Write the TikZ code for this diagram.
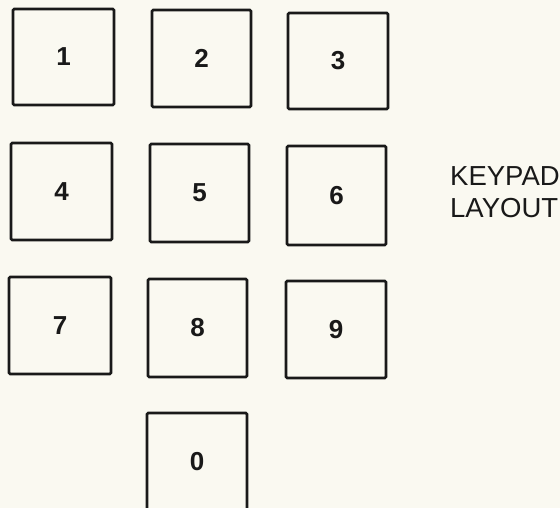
\documentclass[tikz,border=0pt]{standalone}
\usepackage{fontspec}
\setmainfont{Liberation Sans}
\definecolor{paper}{RGB}{250,249,241}
\definecolor{ink}{RGB}{25,25,25}
\begin{document}
\begin{tikzpicture}[x=1pt,y=-1pt,
  key/.style={draw=ink, line width=2.7pt, rounded corners=1.2pt, inner sep=0pt,
    font=\fontsize{26}{26}\selectfont\bfseries, text=ink},
  caption/.style={font=\fontsize{27.5}{32}\selectfont, text=ink, align=left, inner sep=0pt, anchor=north west}]
\fill[paper] (0,0) rectangle (560,508);
\useasboundingbox (0,0) rectangle (560,508);
\clip (0,0) rectangle (560,508);
\node[key, minimum width=101pt, minimum height=96pt] (k1) at (63.5,57) {1};
\node[key, minimum width=99pt, minimum height=97pt] (k2) at (201.5,58.5) {2};
\node[key, minimum width=100pt, minimum height=96pt] (k3) at (338,61) {3};
\node[key, minimum width=101pt, minimum height=97pt] (k4) at (61.5,191.5) {4};
\node[key, minimum width=99pt, minimum height=98pt] (k5) at (199.5,193) {5};
\node[key, minimum width=99pt, minimum height=99pt] (k6) at (336.5,195.5) {6};
\node[key, minimum width=102pt, minimum height=97pt] (k7) at (60,325.5) {7};
\node[key, minimum width=99pt, minimum height=98pt] (k8) at (197.5,328) {8};
\node[key, minimum width=100pt, minimum height=97pt] (k9) at (336,329.5) {9};
\node[key, minimum width=100pt, minimum height=97pt] (k0) at (197,461.5) {0};
\node[caption] (lbl) at (450,166) {KEYPAD\\LAYOUT};
\end{tikzpicture}
\end{document}
